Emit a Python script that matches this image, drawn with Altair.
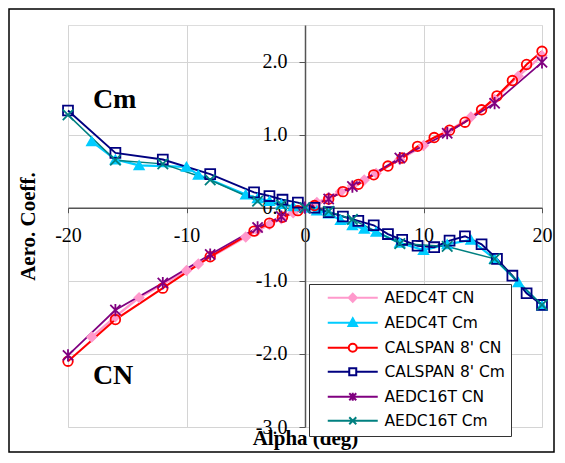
import altair as alt
import pandas as pd

# ---------------- data ----------------
series_names = ["AEDC4T CN", "AEDC4T Cm", "CALSPAN 8' CN", "CALSPAN 8' Cm", "AEDC16T CN", "AEDC16T Cm"]
series_colors = ["#FF99CC", "#00CCFF", "#FF0000", "#000080", "#800080", "#008080"]

aedc4t_alpha = [-18, -16, -14, -10, -9, -5, -4, -3, -2, -1, 0, 1, 2, 3, 4, 5, 6, 8, 10, 12, 14, 16, 18, 20]
aedc4t_cn = [-1.77, -1.49, -1.23, -0.86, -0.77, -0.40, -0.31, -0.23, -0.15, -0.07, 0.0, 0.07, 0.14, 0.22,
             0.30, 0.38, 0.47, 0.66, 0.85, 1.04, 1.24, 1.48, 1.80, 2.08]
aedc4t_cm = [0.91, 0.66, 0.58, 0.56, 0.45, 0.18, 0.13, 0.09, 0.05, 0.02, 0.0, -0.04, -0.08, -0.17,
             -0.24, -0.29, -0.33, -0.48, -0.58, -0.50, -0.44, -0.70, -1.02, -1.34]

calspan_alpha = [-20, -16, -12, -8, -4.3, -3.0, -1.9, -0.6, 0.8, 2.0, 3.2, 4.5, 5.8, 7.0, 8.2, 9.5,
                 10.9, 12.2, 13.5, 14.9, 16.2, 17.5, 18.7, 20.0]
calspan_cn = [-2.10, -1.53, -1.10, -0.67, -0.32, -0.21, -0.13, -0.04, 0.03, 0.12, 0.22, 0.32, 0.45,
              0.57, 0.68, 0.84, 0.96, 1.06, 1.17, 1.34, 1.53, 1.74, 1.96, 2.14]
calspan_cm = [1.33, 0.75, 0.66, 0.46, 0.21, 0.16, 0.11, 0.07, 0.00, -0.06, -0.12, -0.18, -0.24, -0.36,
              -0.44, -0.52, -0.54, -0.45, -0.39, -0.50, -0.70, -0.93, -1.17, -1.33]

aedc16t_alpha = [-20, -16, -12, -8, -4, -2, 0, 2, 4, 8, 12, 16, 20]
aedc16t_cn = [-2.02, -1.40, -1.03, -0.64, -0.27, -0.12, 0.0, 0.12, 0.29, 0.68, 1.02, 1.43, 1.99]
aedc16t_cm = [1.27, 0.65, 0.60, 0.38, 0.09, 0.04, 0.0, -0.05, -0.16, -0.49, -0.53, -0.70, -1.33]

x_ticks = [-20, -10, 0, 10, 20]
y_ticks = [-3, -2, -1, 0, 1, 2]

annot_text = ["Cm", "CN"]
annot_alpha = [-17.9, -17.9]
annot_value = [1.36, -2.41]

# ---------------- styling ----------------
W, H = 474, 402
X_DOM = [-20, 20]
Y_DOM = [-3, 2.5]

plot_shapes = ["diamond", "triangle-up", "circle", "square",
               "M-1,-1L1,1M-1,1L1,-1M0,-1.2L0,1.2", "M-1,-1L1,1M-1,1L1,-1"]
plot_fills = ["#FF99CC", "#00CCFF", "transparent", "transparent", "transparent", "transparent"]
plot_sizes = [80, 110, 130, 115, 100, 100]
line_widths = [2.5, 1.5, 1.5, 1.5, 1.5, 1.5]

legend_shapes = [
    "M1,0H11M5.2,0L6,-0.8L6.8,0L6,0.8Z",
    "M1,0H11M6,-0.9L6.85,0.65L5.15,0.65Z",
    "M1,0H5.2M6.8,0H11M6.8,0A0.8,0.8,0,1,1,5.2,0A0.8,0.8,0,1,1,6.8,0Z",
    "M1,0H5.3M6.7,0H11M5.3,-0.7H6.7V0.7H5.3Z",
    "M1,0H11M5.3,-0.7L6.7,0.7M5.3,0.7L6.7,-0.7M6,-0.8V0.8",
    "M1,0H11M5.3,-0.7L6.7,0.7M5.3,0.7L6.7,-0.7",
]
legend_fills = ["#FF99CC", "#00CCFF", "white", "white", "white", "white"]

rows = []
def add(name, alphas, vals):
    for i, (a, v) in enumerate(zip(alphas, vals)):
        rows.append({"series": name, "alpha": a, "value": v, "idx": i})

add(series_names[0], aedc4t_alpha, aedc4t_cn)
add(series_names[1], aedc4t_alpha, aedc4t_cm)
add(series_names[2], calspan_alpha, calspan_cn)
add(series_names[3], calspan_alpha, calspan_cm)
add(series_names[4], aedc16t_alpha, aedc16t_cn)
add(series_names[5], aedc16t_alpha, aedc16t_cm)
df = pd.DataFrame(rows)

annot_df = pd.DataFrame({"text": annot_text, "alpha": annot_alpha, "value": annot_value})

# axis positions: axes cross at the origin
x_axis_offset = -H * (0 - Y_DOM[0]) / (Y_DOM[1] - Y_DOM[0])
y_axis_offset = -W * (0 - X_DOM[0]) / (X_DOM[1] - X_DOM[0])

minus_fix = "replace(datum.label, '\u2212', '-')"

x_enc = alt.X("alpha:Q", scale=alt.Scale(domain=X_DOM, nice=False, zero=False),
              axis=alt.Axis(values=x_ticks, format="d", labelExpr=minus_fix, grid=True,
                            gridColor="#d4d4d4", gridWidth=1,
                            domainColor="#555555", domainWidth=1.5,
                            tickColor="#555555", tickSize=5, tickWidth=1,
                            labelFont="Liberation Serif", labelFontSize=20, labelColor="black",
                            labelPadding=13, labelFlush=False, labelOverlap=False, labelBound=False,
                            offset=x_axis_offset,
                            title="Alpha (deg)", titleFont="Liberation Serif", titleFontSize=21,
                            titleFontWeight="bold", titleColor="black",
                            titleX=W / 2, titleY=231, titleBaseline="middle", titleAlign="center"))
y_enc = alt.Y("value:Q", scale=alt.Scale(domain=Y_DOM, nice=False, zero=False),
              axis=alt.Axis(values=y_ticks, format=".1f", labelExpr=minus_fix, grid=True,
                            gridColor="#d4d4d4", gridWidth=1,
                            domainColor="#555555", domainWidth=1.5,
                            tickColor="#555555", tickSize=6, tickWidth=1,
                            labelFont="Liberation Serif", labelFontSize=20, labelColor="black",
                            labelPadding=12, labelFlush=False, labelOverlap=False, labelBound=False,
                            offset=y_axis_offset,
                            title="Aero. Coeff.", titleFont="Liberation Serif", titleFontSize=21,
                            titleFontWeight="bold", titleColor="black", titleAngle=270,
                            titleX=-277, titleY=H / 2, titleBaseline="middle", titleAlign="center"))

base = alt.Chart(df)

frame = alt.Chart(pd.DataFrame({"k": [0]})).mark_rect(
    fill="white", fillOpacity=0, stroke="black", strokeWidth=1.5
).encode(x=alt.value(-59), x2=alt.value(W + 12), y=alt.value(-16), y2=alt.value(H + 25))

lines = base.mark_line().encode(
    x=x_enc, y=y_enc,
    color=alt.Color("series:N", scale=alt.Scale(domain=series_names, range=series_colors), legend=None),
    strokeWidth=alt.StrokeWidth("series:N", scale=alt.Scale(domain=series_names, range=line_widths), legend=None),
    order="idx:Q",
)

points = base.mark_point(filled=False, opacity=1, strokeWidth=1.8).encode(
    x="alpha:Q", y="value:Q",
    stroke=alt.Stroke("series:N", scale=alt.Scale(domain=series_names, range=series_colors), legend=None),
    fill=alt.Fill("series:N", scale=alt.Scale(domain=series_names, range=plot_fills), legend=None),
    shape=alt.Shape("series:N", scale=alt.Scale(domain=series_names, range=plot_shapes), legend=None),
    size=alt.Size("series:N", scale=alt.Scale(domain=series_names, range=plot_sizes), legend=None),
)

legend = alt.Legend(orient="none", legendX=241, legendY=259, title=None,
                    padding=6, rowPadding=7, labelFont="DejaVu Sans", labelFontSize=15.5,
                    labelColor="black", strokeColor="#333333", fillColor="white",
                    symbolSize=100, symbolStrokeWidth=2, labelOffset=54)

carrier = base.mark_point(filled=False, opacity=1, strokeWidth=2, size=100).encode(
    x="alpha:Q", y="value:Q",
    stroke=alt.Stroke("series:N", scale=alt.Scale(domain=series_names, range=series_colors), legend=legend),
    fill=alt.Fill("series:N", scale=alt.Scale(domain=series_names, range=legend_fills), legend=legend),
    shape=alt.Shape("series:N", scale=alt.Scale(domain=series_names, range=legend_shapes), legend=legend),
).transform_filter("false")

annots = alt.Chart(annot_df).mark_text(
    align="left", baseline="alphabetic", font="Liberation Serif", fontSize=28,
    fontWeight="bold", color="black"
).encode(x="alpha:Q", y="value:Q", text="text:N")

chart = alt.layer(frame, lines, points, carrier, annots).resolve_scale(
    stroke="independent", fill="independent", shape="independent", color="independent"
).properties(
    width=W, height=H,
    autosize=alt.AutoSizeParams(type="none"),
    padding={"left": 60, "top": 17, "right": 13, "bottom": 26},
).configure_view(stroke="#808080", strokeWidth=1.5).configure(background="white")

chart.save("out.html", embed_options={"renderer": "svg", "actions": False})
